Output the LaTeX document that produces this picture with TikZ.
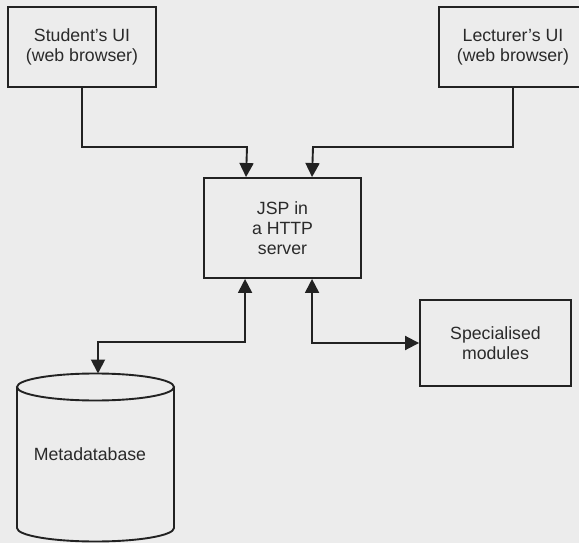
\documentclass[tikz,border=0pt]{standalone}
\usepackage{fontspec}
\setmainfont{Liberation Sans}
\usetikzlibrary{arrows.meta}
\definecolor{paper}{HTML}{ECECEC}
\definecolor{ink}{HTML}{222222}
\definecolor{txt}{HTML}{2A2A2A}
\begin{document}
\begin{tikzpicture}[x=1pt,y=-1pt,
  line width=1.9pt,
  box/.style={draw=ink, fill=paper, align=center, inner sep=0pt,
    text=txt, font=\fontsize{17.7}{20}\selectfont},
  link/.style={draw=ink, -{Triangle[length=14pt,width=14pt]}},
  twoway/.style={draw=ink, {Triangle[length=14pt,width=14pt]}-{Triangle[length=14pt,width=14pt]}}]
  % page and its margins
  \useasboundingbox (0,0) rectangle (579,543);
  \clip (0,0) rectangle (579,543);
  \fill[paper] (0,0) rectangle (579,543);

  % client interfaces
  \node[box, minimum width=148pt, minimum height=80pt] (stu) at (82,47)
    {Student's UI\\(web browser)};
  \node[box, minimum width=148pt, minimum height=80pt] (lec) at (513,47)
    {Lecturer's UI\\(web browser)};

  % server
  \node[box, minimum width=157pt, minimum height=100pt] (jsp) at (282.5,228)
    {JSP in\\a HTTP\\server};

  % modules
  \node[box, minimum width=151pt, minimum height=86pt] (spec) at (495.5,343)
    {Specialised\\modules};

  % database cylinder
  \draw[ink, fill=paper] (17,387) -- (17,528)
    arc[start angle=180, end angle=360, x radius=78.5pt, y radius=13.5pt]
    -- (174,387);
  \draw[ink, fill=paper] (95.5,387) ellipse [x radius=78.5pt, y radius=13.5pt];
  \node[text=txt, font=\fontsize{17.7}{20}\selectfont, inner sep=0pt] (db) at (90,454) {Metadatabase};
  \coordinate (dbtop) at (98,373.5);

  % connectors
  \draw[link] (stu.south) |- (247,147) -- ([xshift=43pt]jsp.north west);
  \draw[link] (lec.south) |- (313,147) -- ([xshift=109pt]jsp.north west);
  \draw[twoway] ([xshift=42pt]jsp.south west) |- (98,342) -- (dbtop);
  \draw[twoway] ([xshift=109pt]jsp.south west) |- (spec.west);
\end{tikzpicture}
\end{document}
